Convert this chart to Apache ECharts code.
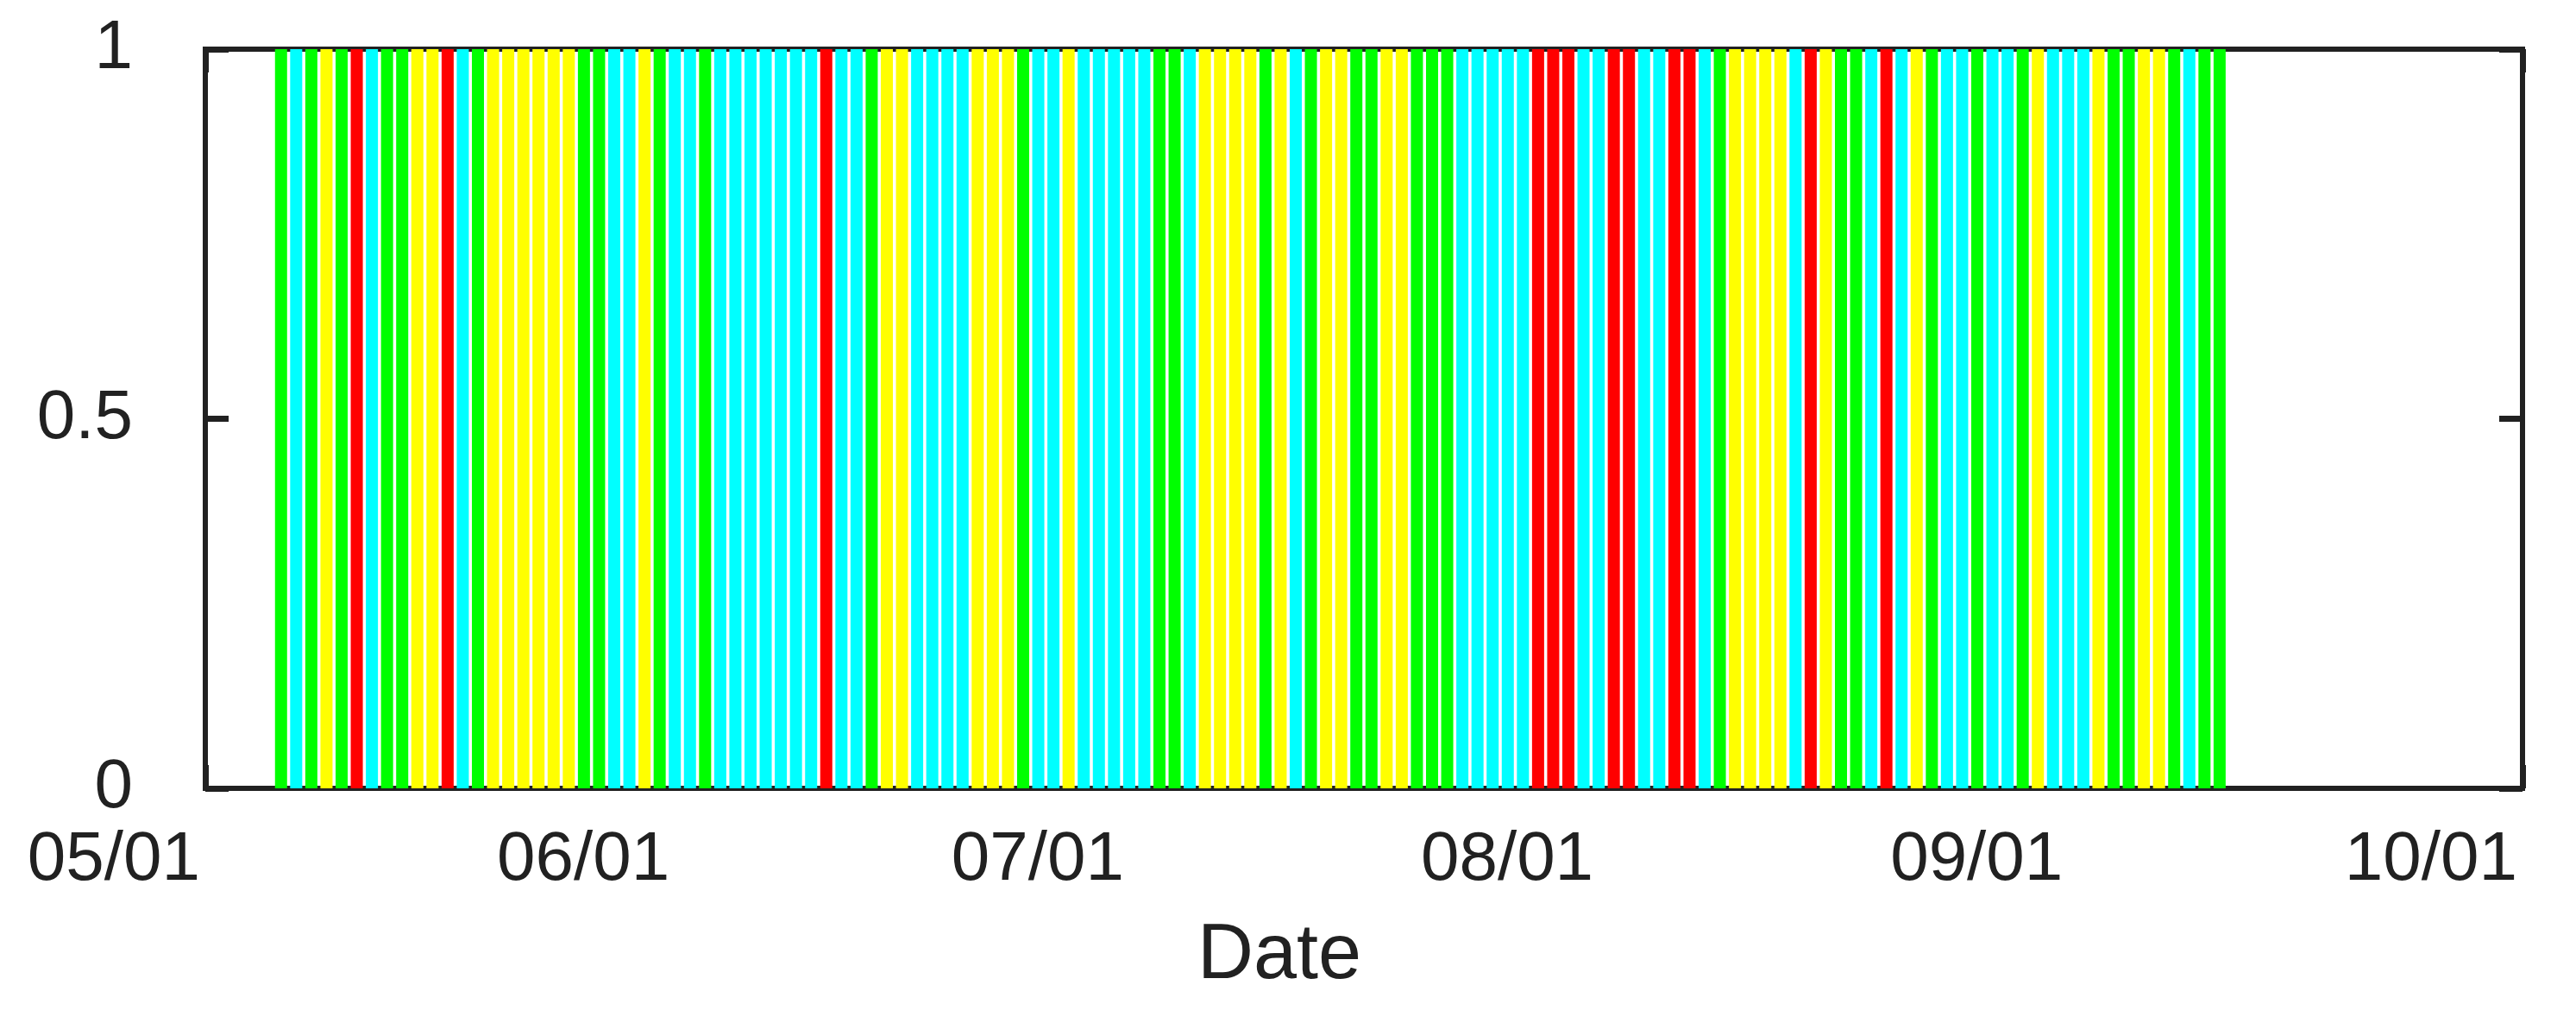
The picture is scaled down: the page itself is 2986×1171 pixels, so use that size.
<!DOCTYPE html>
<html>
<head>
<meta charset="utf-8">
<title>Daily status</title>
<script src="https://cdn.jsdelivr.net/npm/echarts@6/dist/echarts.min.js"></script>
<style>
  html, body { margin: 0; padding: 0; background: #fff; }
  #chart { width: 2986px; height: 1171px; }
</style>
</head>
<body>
<div id="chart"></div>
<script>
// one code per day, starting at firstDay: G = green, Y = yellow, C = cyan, R = red
const year = 2023
const firstDay = '05/06'
const dayCodes = [
  'G', 'C', 'G', 'Y', 'G', 'R', 'C', 'G', 'G', 'Y',
  'Y', 'R', 'C', 'G', 'Y', 'Y', 'Y', 'Y', 'Y', 'Y',
  'G', 'G', 'C', 'C', 'Y', 'G', 'C', 'C', 'G', 'C',
  'C', 'C', 'C', 'C', 'C', 'C', 'R', 'C', 'C', 'G',
  'Y', 'Y', 'C', 'C', 'C', 'C', 'Y', 'Y', 'Y', 'G',
  'C', 'C', 'Y', 'C', 'C', 'C', 'C', 'C', 'G', 'G',
  'C', 'Y', 'Y', 'Y', 'Y', 'G', 'Y', 'C', 'G', 'Y',
  'Y', 'G', 'G', 'Y', 'Y', 'G', 'G', 'G', 'C', 'C',
  'C', 'C', 'C', 'R', 'R', 'R', 'C', 'C', 'R', 'R',
  'C', 'C', 'R', 'R', 'C', 'G', 'Y', 'Y', 'Y', 'Y',
  'C', 'R', 'Y', 'G', 'G', 'C', 'R', 'C', 'Y', 'G',
  'C', 'C', 'G', 'C', 'C', 'G', 'Y', 'C', 'C', 'C',
  'Y', 'G', 'G', 'Y', 'Y', 'G', 'C', 'G', 'G'
]
const codeColors = { G: '#00ff00', Y: '#ffff00', C: '#00ffff', R: '#ff0000' }
const xTickLabels = ['05/01', '06/01', '07/01', '08/01', '09/01', '10/01']
const yTicks = [0, 0.5, 1]

const frameColor = '#212121'
const fontFamily = '"Liberation Sans", Arial, Helvetica, sans-serif'
const DAY = 86400000

// x is counted in days from the first tick label
function dayOf (label) {
  const parts = label.split('/')
  const t = Date.UTC(year, Number(parts[0]) - 1, Number(parts[1]))
  const [m0, d0] = xTickLabels[0].split('/')
  return Math.round((t - Date.UTC(year, Number(m0) - 1, Number(d0))) / DAY)
}

const xTicks = xTickLabels.map(dayOf)
const start = dayOf(firstDay)

const barData = dayCodes.map((code, i) => ({
  value: [start + i, 1],
  itemStyle: { color: codeColors[code] }
}))

const chart = echarts.init(document.getElementById('chart'), null, { renderer: 'canvas' })

function frameLine () {
  return { show: true, onZero: false, lineStyle: { color: frameColor, width: 6, cap: 'square' } }
}
function innerTicks (values) {
  const t = { show: true, inside: true, length: 27, lineStyle: { color: frameColor, width: 7 } }
  if (values) t.customValues = values
  return t
}

chart.setOption({
  animation: false,
  backgroundColor: '#ffffff',
  grid: {
    left: 238,
    right: 62,
    top: 57,
    bottom: 257,
    show: false
  },
  xAxis: [{
    type: 'value',
    position: 'bottom',
    min: xTicks[0],
    max: xTicks[xTicks.length - 1],
    axisLine: frameLine(),
    axisTick: innerTicks(xTicks),
    splitLine: { show: false },
    axisLabel: {
      inside: false,
      customValues: xTicks,
      showMinLabel: true,
      showMaxLabel: true,
      margin: 44,
      align: 'right',
      padding: [0, 6, 0, 0],
      color: frameColor,
      fontFamily: fontFamily,
      fontSize: 80,
      formatter: function (value) {
        const i = xTicks.indexOf(value)
        return i >= 0 ? xTickLabels[i] : ''
      }
    },
    name: 'Date',
    nameLocation: 'middle',
    nameGap: 150,
    nameTextStyle: {
      color: frameColor,
      fontFamily: fontFamily,
      fontSize: 90,
      padding: [0, 196, 0, 0]
    }
  }, {
    type: 'value',
    position: 'top',
    min: xTicks[0],
    max: xTicks[xTicks.length - 1],
    axisLine: frameLine(),
    axisTick: innerTicks(xTicks),
    axisLabel: { show: false, customValues: xTicks },
    splitLine: { show: false }
  }],
  yAxis: [{
    type: 'value',
    position: 'left',
    min: yTicks[0],
    max: yTicks[yTicks.length - 1],
    interval: 0.5,
    axisLine: frameLine(),
    axisTick: innerTicks(),
    splitLine: { show: false },
    axisLabel: {
      inside: false,
      margin: 84,
      color: frameColor,
      fontFamily: fontFamily,
      fontSize: 80,
      formatter: function (v) { return String(v) }
    }
  }, {
    type: 'value',
    position: 'right',
    min: yTicks[0],
    max: yTicks[yTicks.length - 1],
    interval: 0.5,
    axisLine: frameLine(),
    axisTick: innerTicks(),
    splitLine: { show: false },
    axisLabel: { show: false }
  }],
  series: [{
    type: 'bar',
    xAxisIndex: 0,
    yAxisIndex: 0,
    barWidth: 14,
    data: barData
  }]
})
</script>
</body>
</html>
